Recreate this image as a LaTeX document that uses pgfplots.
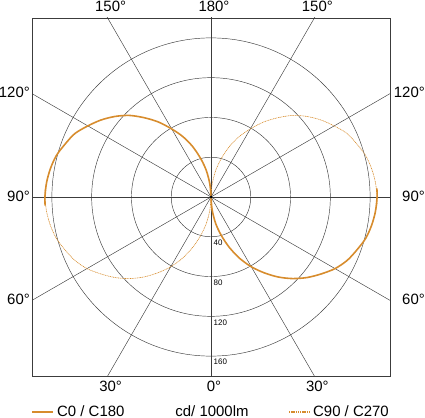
\documentclass[border=0pt]{standalone}
\usepackage{fontspec}
\setmainfont{Liberation Sans}
\usepackage{pgfplots}
\usepackage{pgfplotstable}
\pgfplotsset{compat=1.18}

\definecolor{lamp}{RGB}{215,140,45}
\definecolor{gridc}{RGB}{60,60,60}

% intensity in cd/1000lm against gamma (0 = down, 180 = up)
\pgfplotstableread{
g   I
0   0
5   13
10  27
15  40
20  54
25  68
30  81
35  93
40  105
45  116
50  126
55  135
60  144
65  151
70  156
75  161
80  164
85  166
90  167
93  167
}\lowerhalf

\pgfplotstableread{
g   I
87  167
90  167
95  166
100 164
105 161
110 156
115 151
120 143
125 135
130 126
135 116
140 104
145 92
150 79
155 67
160 54
165 40
170 27
175 13
180 0
}\upperhalf

\begin{document}
\begin{tikzpicture}[x=1bp,y=1bp]
\path[use as bounding box] (-32,-42) rectangle (393,376);
\begin{axis}[
    at={(0,0)}, anchor=south west,
    scale only axis,
    width=358bp, height=358bp,
    xmin=-180, xmax=180, ymin=-180, ymax=180,
    ticks=none,
    axis line style={draw=gridc, line width=0.7bp},
]
% grid
\pgfplotsinvokeforeach{40,80,120,160}{
  \draw[gridc, line width=0.45bp] (axis cs:0,0) circle[radius=#1];
  \node[anchor=north west, inner sep=0pt, font=\fontsize{8}{9}\selectfont,
        xshift=2.5bp, yshift=-3bp] at (axis cs:0,-#1) {#1};
}
\draw[gridc, line width=0.45bp] (axis cs:-300,0) -- (axis cs:300,0);
\draw[gridc, line width=0.45bp] (axis cs:0,-300) -- (axis cs:0,300);
\draw[gridc, line width=0.45bp] (axis cs:-150,-259.8) -- (axis cs:150,259.8);
\draw[gridc, line width=0.45bp] (axis cs:150,-259.8) -- (axis cs:-150,259.8);
\draw[gridc, line width=0.45bp] (axis cs:-259.8,-150) -- (axis cs:259.8,150);
\draw[gridc, line width=0.45bp] (axis cs:259.8,-150) -- (axis cs:-259.8,150);

% C90 / C270
\addplot[lamp, smooth, dash pattern=on 1bp off 0.7bp, line width=0.6bp, data cs=polar]
  table[x expr={\thisrow{g}-90}, y=I] {\upperhalf};
\addplot[lamp, smooth, dash pattern=on 1bp off 0.7bp, line width=0.6bp, data cs=polar]
  table[x expr={270-\thisrow{g}}, y=I] {\lowerhalf};
% C0 / C180
\addplot[lamp, smooth, line width=1.6bp, data cs=polar]
  table[x expr={270-\thisrow{g}}, y=I] {\upperhalf};
\addplot[lamp, smooth, line width=1.6bp, data cs=polar]
  table[x expr={\thisrow{g}-90}, y=I] {\lowerhalf};

\fill[black] (axis cs:0,0) circle[radius=1.5bp];
\end{axis}

% angle labels
\begin{scope}[font=\fontsize{15}{18}\selectfont]
\node[anchor=base] at (75.65,364.5) {150\rlap{°}};
\node[anchor=base] at (179,364.5) {180\rlap{°}};
\node[anchor=base] at (282.35,364.5) {150\rlap{°}};
\node[anchor=base] at (75.65,-15) {30\rlap{°}};
\node[anchor=base] at (179,-15) {0\rlap{°}};
\node[anchor=base] at (282.35,-15) {30\rlap{°}};
\node[anchor=base east, inner sep=0pt] at (-2,278.35) {120°};
\node[anchor=base east, inner sep=0pt] at (-2,175) {90°};
\node[anchor=base east, inner sep=0pt] at (-2,71.65) {60°};
\node[anchor=base east, inner sep=0pt] at (393,278.35) {120°};
\node[anchor=base east, inner sep=0pt] at (393,175) {90°};
\node[anchor=base east, inner sep=0pt] at (393,71.65) {60°};
\end{scope}

% legend
\draw[lamp, line width=2bp] (0,-36) -- (21,-36);
\draw[lamp, dash pattern=on 1.3bp off 0.9bp, line width=1.2bp] (257,-36) -- (278,-36);
\begin{scope}[font=\fontsize{15}{18}\selectfont]
\node[anchor=base west, inner sep=0pt] at (25,-40) {C0 / C180};
\node[anchor=base, inner sep=0pt] at (180,-40) {cd/ 1000lm};
\node[anchor=base west, inner sep=0pt] at (281,-40) {C90 / C270};
\end{scope}
\end{tikzpicture}
\end{document}
